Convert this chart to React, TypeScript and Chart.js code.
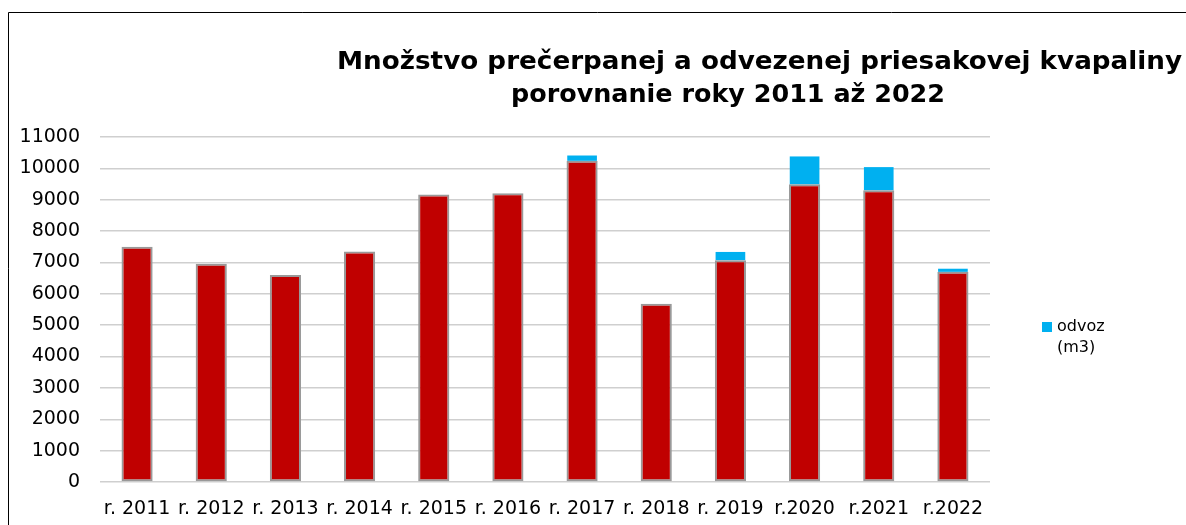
import React, { useEffect, useRef } from "react";
import { Chart, registerables } from "chart.js";

Chart.register(...registerables);

const categories = [
  "r. 2011", "r. 2012", "r. 2013", "r. 2014", "r. 2015", "r. 2016",
  "r. 2017", "r. 2018", "r. 2019", "r.2020", "r.2021", "r.2022",
];
const precerpane = [7500, 6960, 6600, 7350, 9170, 9210, 10240, 5680, 7070, 9490, 9300, 6700];
const odvoz = [0, 0, 0, 0, 0, 0, 170, 0, 265, 890, 740, 100];
const yMin = 0;
const yMax = 11000;
const yStep = 1000;
const titleLines = ["Množstvo prečerpanej a odvezenej priesakovej kvapaliny", "porovnanie roky 2011 až 2022"];
const precerpaneLabel = "prečerpané (m3)";
const odvozLabel = ["odvoz", "(m3)"];

const RED = "#C00000";
const BLUE = "#00B0F0";

function drawFitted(ctx: CanvasRenderingContext2D, text: string, left: number, right: number, y: number) {
  const w = ctx.measureText(text).width;
  const sx = (right - left) / w;
  ctx.save();
  ctx.translate(left, y);
  ctx.scale(sx, 1);
  ctx.fillText(text, 0, 0);
  ctx.restore();
}

const decorPlugin = {
  id: "decor",
  beforeDraw(chart: any) {
    const ctx = chart.ctx;
    ctx.save();
    ctx.fillStyle = "#ffffff";
    ctx.fillRect(0, 0, chart.width, chart.height);
    ctx.restore();
  },
  afterDraw(chart: any) {
    const ctx = chart.ctx;
    ctx.save();
    // frame
    ctx.strokeStyle = "#000000";
    ctx.lineWidth = 1;
    ctx.beginPath();
    ctx.moveTo(chart.width, 12.5);
    ctx.lineTo(8.5, 12.5);
    ctx.lineTo(8.5, chart.height);
    ctx.stroke();
    // title
    ctx.fillStyle = "#000000";
    ctx.font = "bold 24px 'DejaVu Sans'";
    ctx.textBaseline = "middle";
    ctx.textAlign = "left";
    drawFitted(ctx, titleLines[0], 337, 1182, 63);
    drawFitted(ctx, titleLines[1], 511, 945, 96);
    // legend (only odvoz)
    const ds = chart.data.datasets[1];
    ctx.fillStyle = ds.backgroundColor;
    ctx.fillRect(1042, 322, 10, 10);
    ctx.fillStyle = "#000000";
    ctx.font = "16px 'DejaVu Sans'";
    const lbl = ds.label as string[];
    ctx.fillText(lbl[0], 1057, 327);
    ctx.fillText(lbl[1], 1057, 348);
    ctx.restore();
  },
};

export default function App() {
  const ref = useRef<HTMLCanvasElement>(null);
  useEffect(() => {
    document.body.style.margin = "0";
    const chart = new Chart(ref.current!, {
      type: "bar",
      data: {
        labels: categories,
        datasets: [
          {
            label: precerpaneLabel,
            data: precerpane,
            backgroundColor: RED,
            borderColor: "#999999",
            borderWidth: 2,
            borderSkipped: false,
            barPercentage: 0.42,
            categoryPercentage: 1,
          },
          {
            label: odvozLabel as any,
            data: odvoz,
            backgroundColor: BLUE,
            borderWidth: 0,
            barPercentage: 0.4,
            categoryPercentage: 1,
          },
        ],
      },
      options: {
        responsive: false,
        animation: false,
        layout: { padding: { top: 137, left: 0, right: 196, bottom: 0 } },
        plugins: {
          legend: { display: false },
          title: { display: false },
          tooltip: { enabled: false },
        },
        scales: {
          x: {
            stacked: true,
            grid: { display: false },
            border: { display: false },
            ticks: {
              autoSkip: false,
              maxRotation: 0,
              minRotation: 0,
              color: "#000000",
              padding: 8,
              font: { family: "'DejaVu Sans'", size: 19 },
            },
            afterFit(scale: any) {
              scale.height = 43;
            },
          },
          y: {
            stacked: true,
            min: yMin,
            max: yMax,
            grid: { color: "#cfcfcf", lineWidth: 1.5, drawTicks: false },
            border: { display: false },
            ticks: {
              stepSize: yStep,
              color: "#000000",
              padding: 20,
              font: { family: "'DejaVu Sans'", size: 19 },
              callback: (v: any) => String(v),
            },
            afterFit(scale: any) {
              scale.width = 100;
            },
          },
        },
      },
      plugins: [decorPlugin],
    });
    return () => chart.destroy();
  }, []);
  return <canvas ref={ref} width={1186} height={525} style={{ display: "block" }} />;
}
